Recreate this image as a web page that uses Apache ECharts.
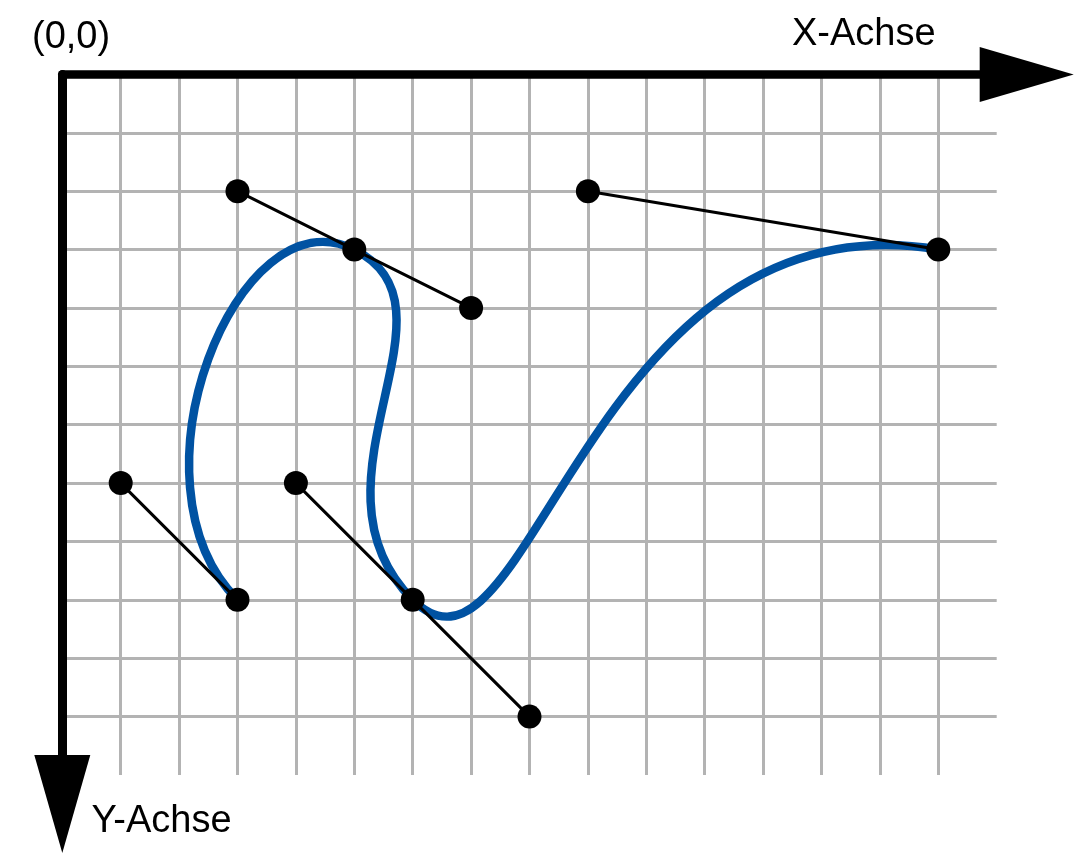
<!DOCTYPE html>
<html><head><meta charset="utf-8">
<script src="https://cdn.jsdelivr.net/npm/echarts@6/dist/echarts.min.js"></script>
<style>html,body{margin:0;padding:0;background:#fff}#c{width:1074px;height:854px}</style>
</head><body><div id="c"></div>
<script>
// Axis extents (grid units)
const xRange = [0, 16];
const yRange = [0, 12];
// Bezier anchors and their handles
const anchors = [[3, 9], [5, 3], [6, 9], [15, 3]];
const handlesOut = [[1, 7], [7, 4], [8, 11]];   // outgoing handle of anchors 0..2
const handlesIn = [[3, 2], [4, 7], [9, 2]];     // incoming handle of anchors 1..3
// Handle lines (polylines through anchor)
const handleLines = [
  [[1, 7], [3, 9]],
  [[3, 2], [5, 3], [7, 4]],
  [[4, 7], [6, 9], [8, 11]],
  [[9, 2], [15, 3]]
];
const labels = { origin: '(0,0)', x: 'X-Achse', y: 'Y-Achse' };

const allPoints = [];
handleLines.forEach(l => l.forEach(p => allPoints.push(p)));

const FONT = '38px "Liberation Sans", Arial, sans-serif';
const chart = echarts.init(document.getElementById('c'), null, { renderer: 'canvas' });
chart.setOption({
  animation: false,
  backgroundColor: '#fff',
  grid: { left: 62.3, top: 74.4, width: 934.4, height: 700.6, containLabel: false },
  xAxis: {
    type: 'value', position: 'top', min: xRange[0], max: xRange[1], interval: 1,
    axisLine: { show: true, onZero: false, lineStyle: { color: '#000', width: 8.5 },
      symbol: ['none', 'triangle'], symbolSize: [55, 94], symbolOffset: [0, 30] },
    axisTick: { show: false }, axisLabel: { show: false },
    splitLine: { show: true, showMinLine: false, showMaxLine: false, lineStyle: { color: '#b3b3b3', width: 3 } }
  },
  yAxis: {
    type: 'value', inverse: true, position: 'left', min: yRange[0], max: yRange[1], interval: 1,
    axisLine: { show: true, onZero: false, lineStyle: { color: '#000', width: 9 },
      symbol: ['triangle', 'none'], symbolSize: [56, 98], symbolOffset: [-29, 0] },
    axisTick: { show: false }, axisLabel: { show: false },
    splitLine: { show: true, showMinLine: false, showMaxLine: false, lineStyle: { color: '#b3b3b3', width: 3 } }
  },
  graphic: [
    { type: 'text', style: { x: 32, y: 38, text: labels.origin, font: FONT, fill: '#000', verticalAlign: 'middle' } },
    { type: 'text', style: { x: 792, y: 35, text: labels.x, font: FONT, fill: '#000', verticalAlign: 'middle' } },
    { type: 'text', style: { x: 91.5, y: 822, text: labels.y, font: FONT, fill: '#000', verticalAlign: 'middle' } }
  ],
  series: [
    {
      type: 'custom', z: 1, clip: false,
      data: [[anchors[0][0], anchors[0][1]]],
      renderItem: function (params, api) {
        const children = [];
        for (let i = 0; i < anchors.length - 1; i++) {
          const p0 = api.coord(anchors[i]);
          const c1 = api.coord(handlesOut[i]);
          const c2 = api.coord(handlesIn[i]);
          const p3 = api.coord(anchors[i + 1]);
          children.push({
            type: 'bezierCurve',
            shape: { x1: p0[0], y1: p0[1], cpx1: c1[0], cpy1: c1[1], cpx2: c2[0], cpy2: c2[1], x2: p3[0], y2: p3[1] },
            style: { stroke: '#0052a2', lineWidth: 8.5, fill: null, lineCap: 'round' }
          });
        }
        return { type: 'group', children: children };
      }
    },
    {
      type: 'lines', coordinateSystem: 'cartesian2d', polyline: true, z: 3,
      lineStyle: { color: '#000', width: 3, opacity: 1 },
      data: handleLines.map(l => ({ coords: l }))
    },
    {
      type: 'scatter', z: 4, symbol: 'circle', symbolSize: 24,
      itemStyle: { color: '#000', opacity: 1 },
      data: allPoints
    }
  ]
});
</script>
</body></html>
